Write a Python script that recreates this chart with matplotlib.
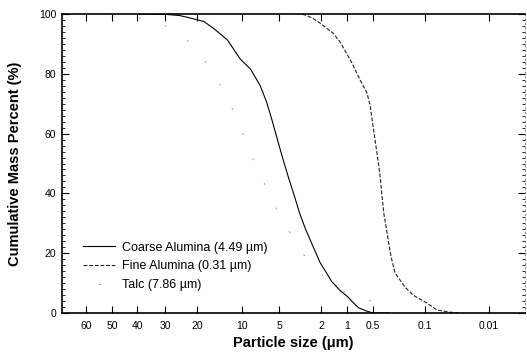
import numpy as np
import matplotlib
matplotlib.use("Agg")
import matplotlib.pyplot as plt
from matplotlib.ticker import FixedLocator, MultipleLocator

plt.rcParams['font.family'] = ['Liberation Sans', 'DejaVu Sans']

# ---- data ----
coarse_d = [40, 30, 25, 21.9, 18, 15.6, 12.5, 10.3, 8.5, 7.1, 6.3, 5.7, 4.9, 4.5, 4.0, 3.6,
            3.16, 2.8, 2.5, 2.05, 1.5, 1.2, 0.98, 0.85, 0.73, 0.6, 0.54, 0.5, 0.3]
coarse_y = [100, 99.9, 99.5, 98.7, 97.5, 95.3, 91.3, 85, 81.5, 76, 70.5, 64.5, 55, 50.5,
            44.5, 39.5, 33, 28, 24, 17, 10.5, 7.5, 5.4, 3.5, 1.7, 0.7, 0.3, 0, 0]

fine_d = [3.0, 2.43, 2.05, 1.45, 1.2, 0.875, 0.707, 0.587, 0.54, 0.514, 0.47, 0.428, 0.40,
          0.378, 0.356, 0.324, 0.287, 0.253, 0.186, 0.145, 0.093, 0.065, 0.041, 0.03]
fine_y = [100, 98.7, 97, 93.6, 90.6, 83.6, 78, 73.6, 69.5, 65, 58, 51, 45.5,
          39, 33, 26.8, 19, 13.4, 8.7, 6, 3.3, 1, 0.3, 0]

talc_d = [45, 31, 25, 20, 15.6, 14, 11, 7.86, 5, 3, 2, 1, 0.55, 0.4, 0.3]
talc_y = [100, 96.6, 93.6, 88, 80.3, 76.3, 66, 50, 33, 20, 13, 6.5, 4.3, 2.7, 0]

labels = ['Coarse Alumina (4.49 µm)', 'Fine Alumina (0.31 µm)', 'Talc (7.86 µm)']

xticks = [60, 50, 40, 30, 20, 10, 5, 2, 1, 0.5, 0.1, 0.01]
xticklabels = ['60', '50', '40', '30', '20', '10', '5', '2', '1', '0.5', '0.1', '0.01']

# ---- custom (sedigraph-like) axis scale, knots taken from the printed tick spacing ----
knot_d = np.array([71, 60, 50, 40, 30, 20, 10, 5, 2, 1, 0.5, 0.1, 0.01, 0.0028])
knot_p = np.array([62, 86, 112, 137, 165, 197, 242, 279, 321, 347, 373, 425, 489, 525], float)
knot_l = -np.log10(knot_d)
_s0 = (knot_p[1] - knot_p[0]) / (knot_l[1] - knot_l[0])
_s1 = (knot_p[-1] - knot_p[-2]) / (knot_l[-1] - knot_l[-2])


def _fwd(d):
    d = np.asarray(d, float)
    l = -np.log10(np.where(d > 0, d, 1e-12))
    p = np.interp(l, knot_l, knot_p)
    p = np.where(l < knot_l[0], knot_p[0] + (l - knot_l[0]) * _s0, p)
    p = np.where(l > knot_l[-1], knot_p[-1] + (l - knot_l[-1]) * _s1, p)
    return p


def _inv(p):
    p = np.asarray(p, float)
    l = np.interp(p, knot_p, knot_l)
    l = np.where(p < knot_p[0], knot_l[0] + (p - knot_p[0]) / _s0, l)
    l = np.where(p > knot_p[-1], knot_l[-1] + (p - knot_p[-1]) / _s1, l)
    return 10 ** (-l)


fig = plt.figure(figsize=(5.27, 3.53), dpi=100)
ax = fig.add_axes([62 / 527, 1 - 313 / 353, (525 - 62) / 527, (313 - 14) / 353])
ax.set_xscale('function', functions=(_fwd, _inv))

ax.plot(coarse_d, coarse_y, color='black', lw=0.8, label=labels[0])
ax.plot(fine_d, fine_y, color='#222222', lw=0.8, dashes=(3.5, 1.6), label=labels[1])
ax.plot(talc_d, talc_y, color='#999999', lw=0.7, linestyle=(12.3, (2, 26)), label=labels[2])

ax.set_xlim(0.0028, 71)
ax.set_ylim(0, 100)

ax.xaxis.set_major_locator(FixedLocator(xticks))
ax.set_xticklabels(xticklabels)
ax.xaxis.set_minor_locator(FixedLocator([]))
ax.yaxis.set_major_locator(MultipleLocator(20))
ax.yaxis.set_minor_locator(MultipleLocator(2))

ax.tick_params(axis='both', which='major', direction='in', length=5, width=0.8,
               labelsize=7.5, top=True, right=True, pad=4)
ax.tick_params(axis='y', which='minor', direction='in', length=2.5, width=0.6,
               left=True, right=True)
ax.tick_params(axis='x', which='major', pad=6)

for s in ['left', 'bottom', 'top']:
    ax.spines[s].set_linewidth(1.2)
ax.spines['right'].set_linestyle((0, (1, 3)))
ax.spines['right'].set_color('#888888')
ax.spines['right'].set_linewidth(0.8)

ax.set_xlabel('Particle size (μm)', fontsize=10.5, fontweight='bold', labelpad=3)
ax.set_ylabel('Cumulative Mass Percent (%)', fontsize=10.5, fontweight='bold', labelpad=12)

leg = ax.legend(loc='lower left', bbox_to_anchor=(0.02, 0.035), frameon=False,
                fontsize=9, handlelength=2.6, handletextpad=0.55, labelspacing=0.55)

fig.savefig('out.png', dpi=100)
